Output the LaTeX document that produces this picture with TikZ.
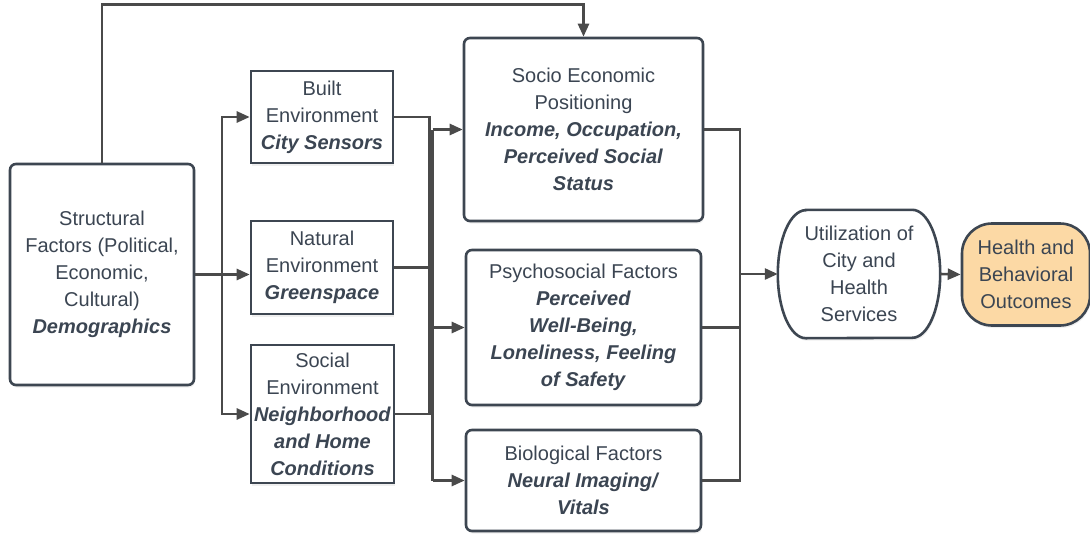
\documentclass[tikz,border=0pt]{standalone}
\usepackage{fontspec}
\setmainfont{Liberation Sans}
\usetikzlibrary{arrows.meta,shadows,calc,backgrounds}
\definecolor{ink}{HTML}{3B4552}
\definecolor{edge}{HTML}{3D4651}
\definecolor{wire}{HTML}{4A4A4A}
\definecolor{peach}{HTML}{FCD9A5}
\newcommand{\bi}[1]{\textbf{\textit{#1}}}
\begin{document}
\begin{tikzpicture}[x=1pt,y=-1pt,
  txt/.style={text=ink, align=center, font=\fontsize{20}{27}\selectfont, inner sep=0pt},
  shadowed/.style={drop shadow={opacity=0.13, shadow xshift=1pt, shadow yshift=-2.5pt}},
  box/.style={txt, draw=edge, line width=2.6pt, fill=white, shadowed},
  sqbox/.style={box},
  rbox/.style={box, rounded corners=6pt},
  wire/.style={draw=wire, line width=2.6pt},
  arr/.style={wire, -{Triangle[length=13pt,width=11pt]}}]
\useasboundingbox (0,0) rectangle (1090,533);

\node[rbox, minimum width=184, minimum height=221] (struct) at (102,274.5)
  {Structural\\Factors (Political,\\Economic,\\Cultural)\\\bi{Demographics}};
\node[sqbox, minimum width=142, minimum height=92] (built) at (322,117)
  {Built\\Environment\\\bi{City Sensors}};
\node[sqbox, minimum width=142, minimum height=93] (natural) at (322,267.5)
  {Natural\\Environment\\\bi{Greenspace}};
\node[sqbox, minimum width=143, minimum height=138] (social) at (322.5,414)
  {Social\\Environment\\\bi{Neighborhood}\\\bi{and Home}\\\bi{Conditions}};
\node[rbox, minimum width=239, minimum height=183] (sep) at (583.5,129.5)
  {Socio Economic\\Positioning\\\bi{Income, Occupation,}\\\bi{Perceived Social}\\\bi{Status}};
\node[rbox, minimum width=235, minimum height=155] (psych) at (583.5,327.5)
  {Psychosocial Factors\\\bi{Perceived}\\\bi{Well-Being,}\\\bi{Loneliness, Feeling}\\\bi{of Safety}};
\node[rbox, minimum width=235, minimum height=101] (bio) at (583.5,480.5)
  {Biological Factors\\\bi{Neural Imaging/}\\\bi{Vitals}};
\node[txt, minimum width=162, minimum height=128] (util) at (859,274)
  {Utilization of\\City and\\Health\\Services};
\node[box, fill=peach, rounded corners=30pt, minimum width=128, minimum height=102] (health) at (1026,274.5)
  {Health and\\Behavioral\\Outcomes};

\begin{scope}[on background layer]
\draw[draw=edge, line width=2.6pt, fill=white, shadowed]
  ($(util.north west)+(28,0)$) -- ($(util.north east)+(-28,0)$)
  arc[start angle=90, end angle=-90, x radius=28pt, y radius=64pt]
  -- ($(util.south west)+(28,0)$)
  arc[start angle=270, end angle=90, x radius=28pt, y radius=64pt] -- cycle;
\end{scope}

% top connector
\draw[arr] (struct.north) -- ++(0,-158) -| (sep.north);

% left bus
\coordinate (b1) at (222,274);
\draw[arr] (struct.east) -- (struct.east -| natural.west);
\draw[arr] (b1) |- (built.west);
\draw[arr] (b1) |- (social.west);

% middle bus
\coordinate (m1) at (429.5,0);
\coordinate (m2) at (432.5,0);
\draw[wire] (built.east) -| (m1 |- social.east) -- (social.east);
\draw[wire] (natural.east) -- (natural.east -| m1);
\draw[wire] (m2 |- sep.west) -- (m2 |- bio.west);
\draw[arr] (m2 |- sep.west) -- (sep.west);
\draw[arr] (m2 |- psych.west) -- (psych.west);
\draw[arr] (m2 |- bio.west) -- (bio.west);

% right bus
\coordinate (r) at (740,0);
\draw[wire] (sep.east) -| (r |- bio.east) -- (bio.east);
\draw[wire] (psych.east) -- (psych.east -| r);
\draw[arr] (r |- util.west) -- (util.west);
\draw[arr] (util.east) -- (health.west);
\end{tikzpicture}
\end{document}
